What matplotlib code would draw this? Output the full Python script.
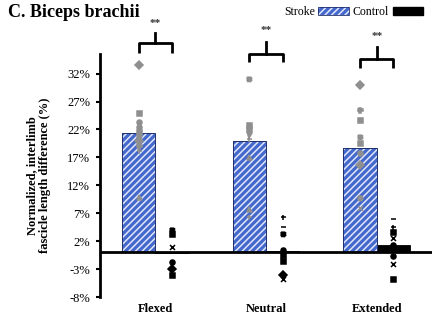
import matplotlib
matplotlib.use("Agg")
import matplotlib.pyplot as plt
from matplotlib.patches import Patch
from matplotlib.legend_handler import HandlerTuple
import numpy as np

categories = ["Flexed", "Neutral", "Extended"]
stroke_means = [21.4, 20.0, 18.7]
control_means = [-0.15, 0.3, 1.3]

stroke_points = [
    [33.5, 25.0, 23.4, 22.5, 21.5, 20.8, 20.0, 19.0, 18.2, 10.0],
    [31.0, 22.8, 22.0, 21.0, 20.3, 17.0, 7.7, 6.4],
    [30.0, 25.5, 23.7, 20.7, 19.5, 17.8, 15.7, 9.8, 8.0],
]
stroke_markers = [
    ["D", "s", "o", "o", "s", "X", "D", "P", "+", "^"],
    ["X", "s", "s", "v", "+", "^", "^", "+"],
    ["D", "P", "s", "X", "s", "o", "D", "X", "x"],
]
control_points = [
    [4.0, 3.3, 1.0, -1.8, -3.0, -4.0],
    [6.4, 4.6, 3.2, 0.5, -0.4, -1.6, -4.0, -4.8],
    [6.0, 4.6, 3.7, 2.6, 1.4, 0.9, -0.7, -2.0, -4.8],
]
control_markers = [
    ["X", "s", "x", "o", "D", "s"],
    ["+", "_", "X", "o", "s", "s", "D", "x"],
    ["_", "+", "s", "x", "o", "X", "o", "x", "s"],
]
yticks = [-8, -3, 2, 7, 12, 17, 22, 27, 32]
# significance brackets: (bar level, end level, stem top, star level)
brackets = [(37.5, 35.7, 39.3, 41.0), (35.5, 34.1, 37.7, 39.8), (34.6, 33.0, 36.8, 38.6)]

serif = ["Liberation Serif", "DejaVu Serif"]
plt.rcParams["font.family"] = serif
plt.rcParams["hatch.linewidth"] = 1.1

fig = plt.figure(figsize=(4.36, 3.32), dpi=100)
ax = fig.add_axes([0.2294, 0.1054, 0.7614, 0.7316])

x = np.arange(len(categories))
w = 0.3
blue = "#4468cc"
hatch_col = "#dfe7fa"
edge = "#1f2f6b"
ax.bar(x - w / 2, stroke_means, width=w, color=blue, hatch="/////",
       edgecolor=hatch_col, linewidth=0, zorder=2)
ax.bar(x - w / 2, stroke_means, width=w, fill=False, edgecolor=edge,
       linewidth=0.7, zorder=3)
ax.bar(x + w / 2, control_means, width=w, color="black", edgecolor="black",
       linewidth=0.6, zorder=2)

for i in range(len(categories)):
    for v, m in zip(stroke_points[i], stroke_markers[i]):
        ax.plot(x[i] - w / 2, v, marker=m, color="#8f8f8f", markersize=3.6,
                markeredgewidth=1.1, linestyle="none", zorder=4)
    for v, m in zip(control_points[i], control_markers[i]):
        ax.plot(x[i] + w / 2, v, marker=m, color="black", markersize=3.6,
                markeredgewidth=1.1, linestyle="none", zorder=4)

for i, (lvl, end, top, star) in enumerate(brackets):
    xl, xr = x[i] - w / 2, x[i] + w / 2
    ax.plot([xl, xl, xr, xr], [end, lvl, lvl, end], color="black", lw=2.0,
            solid_joinstyle="round", solid_capstyle="butt", clip_on=False)
    ax.plot([x[i], x[i]], [lvl, top], color="black", lw=2.0, clip_on=False)
    ax.text(x[i], star, "**", ha="center", va="center", fontsize=8,
            fontweight="bold", color="#333333", clip_on=False)

ax.set_xlim(-0.5, 2.5)
ax.set_ylim(-8, 35.5)
ax.axhline(0, color="black", lw=2.0, zorder=5)

ax.spines["top"].set_visible(False)
ax.spines["right"].set_visible(False)
ax.spines["bottom"].set_visible(False)
ax.spines["left"].set_linewidth(2.0)

ax.set_yticks(yticks)
ax.set_yticklabels([f"{t}%" for t in yticks], fontsize=9)
ax.tick_params(axis="y", direction="out", length=3, width=1.5, pad=4)
ax.set_xticks(x)
ax.set_xticklabels(categories, fontsize=9, fontweight="bold")
ax.tick_params(axis="x", length=0, pad=4)

ax.set_ylabel("Normalized, interlimb\nfascicle length difference (%)",
              fontsize=9, fontweight="bold", labelpad=12, linespacing=1.0)

fig.text(0.018, 0.962, "C. Biceps brachii", fontsize=13, fontweight="bold",
         ha="left", va="center")

stroke_handle = (Patch(facecolor=blue, hatch="/////", edgecolor=hatch_col, lw=0),
                 Patch(fill=False, edgecolor=edge, lw=0.6))
handles = [stroke_handle, Patch(facecolor="black", edgecolor="black")]
leg = fig.legend(handles, ["Stroke", "Control"], loc="center right",
                 bbox_to_anchor=(0.995, 0.963), ncol=2, frameon=False,
                 markerfirst=False, fontsize=8.5, handlelength=2.6,
                 handleheight=0.6, columnspacing=0.3, handletextpad=0.3,
                 handler_map={tuple: HandlerTuple(ndivide=1, pad=0)})

fig.savefig("out.png", dpi=100, facecolor="white")
